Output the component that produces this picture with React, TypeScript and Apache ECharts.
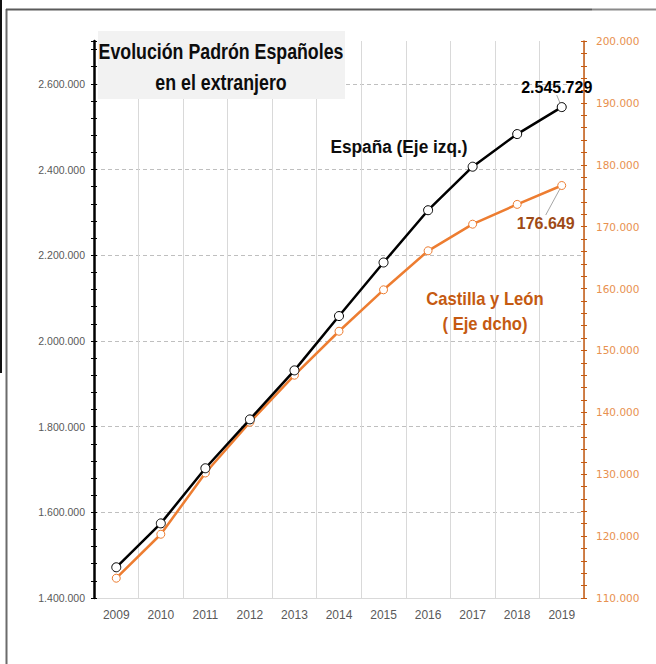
import React, { useEffect, useRef } from "react";
import * as echarts from "echarts";

const years = ["2009", "2010", "2011", "2012", "2013", "2014", "2015", "2016", "2017", "2018", "2019"];
const espana = [1471691, 1574123, 1702778, 1816835, 1931248, 2058048, 2183043, 2305030, 2406611, 2482808, 2545729];
const castilla = [113200, 120300, 130200, 138400, 146000, 153100, 159800, 166100, 170400, 173600, 176649];

const leftMin = 1400000;
const leftMax = 2700000;
const leftStep = 200000;
const leftMinorStep = 40000;
const rightMin = 110000;
const rightMax = 200000;
const rightStep = 10000;
const rightMinorStep = 2000;

const titleLines = ["Evolución Padrón Españoles", "en el extranjero"];
const espanaNote = "España (Eje izq.)";
const castillaNote = ["Castilla y León", "( Eje dcho)"];

const SANS = "'Liberation Sans', Arial, sans-serif";

const fmt = (v: number) => Math.round(v).toString().replace(/\B(?=(\d{3})+(?!\d))/g, ".");

export default function App() {
  const ref = useRef<HTMLDivElement>(null);
  useEffect(() => {
    if (!ref.current) return;
    const chart = echarts.init(ref.current, null, { renderer: "svg" });
    const last = years.length - 1;

    const tickAxis = (pos: "left" | "right", min: number, max: number, step: number, inside: boolean, color: string) => ({
      type: "value",
      position: pos,
      min,
      max,
      interval: step,
      axisLine: { show: false },
      axisLabel: { show: false },
      splitLine: { show: false },
      axisTick: { show: true, inside, length: 3, lineStyle: { color, width: 1 } },
    });

    chart.setOption({
      animation: false,
      backgroundColor: "#ffffff",
      grid: { left: 94, right: 72, top: 41, bottom: 66, containLabel: false },
      xAxis: {
        type: "category",
        data: years,
        boundaryGap: true,
        axisLine: { show: true, lineStyle: { color: "#d9d9d9", width: 1 } },
        axisTick: { show: false },
        axisLabel: { color: "#595959", fontSize: 12, margin: 11, fontFamily: SANS },
        splitLine: { show: true, lineStyle: { color: "#d9d9d9", width: 1 } },
      },
      yAxis: [
        {
          type: "value",
          position: "left",
          min: leftMin,
          max: leftMax,
          interval: leftStep,
          axisLine: { show: true, lineStyle: { color: "#000000", width: 2.5 } },
          axisTick: { show: false },
          axisLabel: {
            color: "#595959",
            fontSize: 10.5,
            margin: 9,
            showMaxLabel: false,
            fontFamily: SANS,
            formatter: (v: number) => (v % leftStep === 0 ? fmt(v) : ""),
          },
          splitLine: {
            show: true,
            showMinLine: false,
            showMaxLine: false,
            lineStyle: { color: "#bfbfbf", width: 1, type: [4, 3] },
          },
        },
        {
          type: "value",
          position: "right",
          min: rightMin,
          max: rightMax,
          interval: rightStep,
          axisLine: { show: true, lineStyle: { color: "#c55a11", width: 1.5 } },
          axisTick: { show: false },
          axisLabel: {
            color: "#e8914f",
            fontSize: 10.5,
            margin: 12,
            fontFamily: "'DejaVu Sans', Verdana, sans-serif",
            formatter: (v: number) => fmt(v),
          },
          splitLine: { show: false },
        },
        tickAxis("left", leftMin, leftMax, leftMinorStep, false, "#000000"),
        tickAxis("left", leftMin, leftMax, leftMinorStep, true, "#000000"),
        tickAxis("right", rightMin, rightMax, rightMinorStep, false, "#c55a11"),
        tickAxis("right", rightMin, rightMax, rightMinorStep, true, "#c55a11"),
      ],
      series: [
        {
          name: "Castilla y León",
          type: "line",
          yAxisIndex: 1,
          data: castilla.map((v, i) => (i === last ? { value: v, label: { show: true } } : v)),
          symbol: "circle",
          symbolSize: 8,
          itemStyle: { color: "#ffffff", borderColor: "#ed7d31", borderWidth: 1 },
          lineStyle: { color: "#ed7d31", width: 2.5 },
          z: 3,
          label: {
            show: false,
            position: "bottom",
            formatter: (p: any) => fmt(p.value),
            color: "#9e4a16",
            fontWeight: "bold",
            fontSize: 16,
            fontFamily: SANS,
          },
          labelLayout: { dx: -16, dy: 20 },
          labelLine: { show: true, lineStyle: { color: "#a6a6a6", width: 1 } },
        },
        {
          name: "España",
          type: "line",
          yAxisIndex: 0,
          data: espana.map((v, i) => (i === last ? { value: v, label: { show: true } } : v)),
          symbol: "circle",
          symbolSize: 9,
          itemStyle: { color: "#ffffff", borderColor: "#000000", borderWidth: 1 },
          lineStyle: { color: "#000000", width: 2.5 },
          z: 4,
          label: {
            show: false,
            position: "top",
            formatter: (p: any) => fmt(p.value),
            color: "#000000",
            fontWeight: "bold",
            fontSize: 16,
            fontFamily: SANS,
          },
          labelLayout: { dx: -5, dy: -2 },
          labelLine: { show: true, lineStyle: { color: "#a6a6a6", width: 1 } },
        },
      ],
      graphic: [
        { type: "line", z: 100, shape: { x1: 1, y1: 0, x2: 1, y2: 373 }, style: { stroke: "#111111", lineWidth: 2 } },
        { type: "line", z: 100, shape: { x1: 6.5, y1: 9, x2: 6.5, y2: 664 }, style: { stroke: "#6b6b6b", lineWidth: 2 } },
        { type: "line", z: 100, shape: { x1: 6, y1: 9.5, x2: 592, y2: 9.5 }, style: { stroke: "#5a5a5a", lineWidth: 2 } },
        { type: "line", z: 100, shape: { x1: 592, y1: 9.5, x2: 656, y2: 9.5 }, style: { stroke: "#8a8a8a", lineWidth: 2 } },
        { type: "rect", z: 100, shape: { x: 98, y: 31, width: 247, height: 68 }, style: { fill: "#f2f2f2" } },
        {
          type: "text",
          z: 101,
          x: 221,
          y: 67,
          scaleX: 0.79,
          style: {
            text: titleLines.join("\n"),
            fill: "#0d0d0d",
            fontSize: 22.5,
            fontWeight: "bold",
            fontFamily: SANS,
            lineHeight: 31,
            textAlign: "center",
            textVerticalAlign: "middle",
          },
        },
        {
          type: "text",
          z: 101,
          x: 399,
          y: 147,
          scaleX: 0.96,
          style: {
            text: espanaNote,
            fill: "#0d0d0d",
            fontSize: 18,
            fontWeight: "bold",
            fontFamily: SANS,
            textAlign: "center",
            textVerticalAlign: "middle",
          },
        },
        {
          type: "text",
          z: 101,
          x: 485,
          y: 311,
          scaleX: 0.9,
          style: {
            text: castillaNote.join("\n"),
            fill: "#c55a11",
            fontSize: 18.5,
            fontWeight: "bold",
            fontFamily: SANS,
            lineHeight: 25,
            textAlign: "center",
            textVerticalAlign: "middle",
          },
        },
      ],
    });
    return () => chart.dispose();
  }, []);
  return <div ref={ref} style={{ position: "absolute", left: 0, top: 0, width: 656, height: 664 }} />;
}
